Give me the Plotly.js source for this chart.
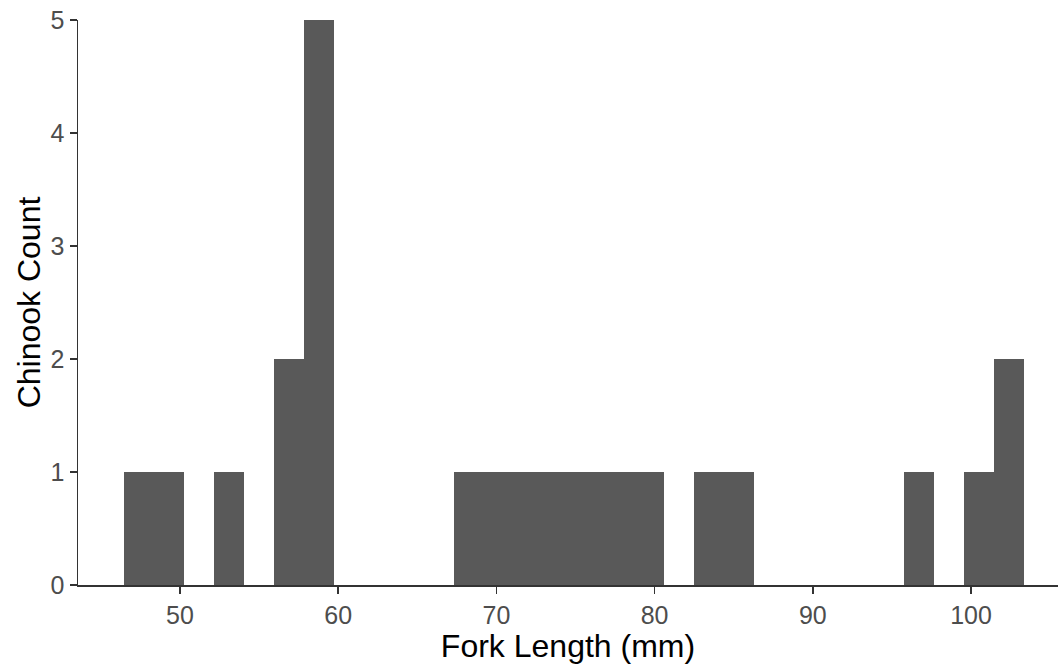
<!DOCTYPE html>
<html>
<head>
<meta charset="utf-8">
<script src="https://cdn.plot.ly/plotly-3.0.1.min.js"></script>
<style>html,body{margin:0;padding:0;background:#fff;}#chart{width:1058px;height:666px;}</style>
</head>
<body>
<div id="chart"></div>
<script>
// Histogram of Chinook fork lengths (30 bins)
const binStart = 46.44;
const binWidth = 1.898;
const counts = [1, 1, 0, 1, 0, 2, 5, 0, 0, 0, 0, 1, 1, 1, 1, 1, 1, 1, 0, 1, 1, 0, 0, 0, 0, 0, 1, 0, 1, 2];
const xTicks = [50, 60, 70, 80, 90, 100];
const yTicks = [0, 1, 2, 3, 4, 5];
const xTitle = 'Fork Length (mm)';
const yTitle = 'Chinook Count';

const centers = counts.map((c, i) => binStart + binWidth * (i + 0.5));

const trace = {
  type: 'bar',
  x: centers,
  y: counts,
  width: counts.map(() => binWidth),
  marker: {color: '#595959', line: {width: 0}},
  hoverinfo: 'x+y'
};

const font = 'Liberation Sans, Arial, sans-serif';
const layout = {
  width: 1058,
  height: 666,
  margin: {l: 78, r: 0, t: 20, b: 81, pad: 0},
  paper_bgcolor: '#ffffff',
  plot_bgcolor: '#ffffff',
  showlegend: false,
  bargap: 0,
  xaxis: {
    range: [43.55, 105.5],
    tickvals: xTicks,
    ticktext: xTicks.map(String),
    ticks: 'outside',
    ticklen: 7,
    tickwidth: 1.5,
    tickcolor: '#333333',
    showline: true,
    linecolor: '#333333',
    linewidth: 1.5,
    showgrid: false,
    zeroline: false,
    tickfont: {family: font, size: 25, color: '#4d4d4d'},
    title: {text: xTitle, font: {family: font, size: 32, color: '#000000'}, standoff: 1},
    automargin: false
  },
  yaxis: {
    range: [0, 5],
    tickvals: yTicks,
    ticktext: yTicks.map(String),
    ticks: 'outside',
    ticklen: 7,
    tickwidth: 1.5,
    tickcolor: '#333333',
    showline: true,
    linecolor: '#333333',
    linewidth: 1.5,
    showgrid: false,
    zeroline: false,
    tickfont: {family: font, size: 25, color: '#4d4d4d'},
    title: {text: yTitle, font: {family: font, size: 32, color: '#000000'}, standoff: 0},
    automargin: false
  }
};

Plotly.newPlot('chart', [trace], layout, {displayModeBar: false, staticPlot: true});
</script>
</body>
</html>
